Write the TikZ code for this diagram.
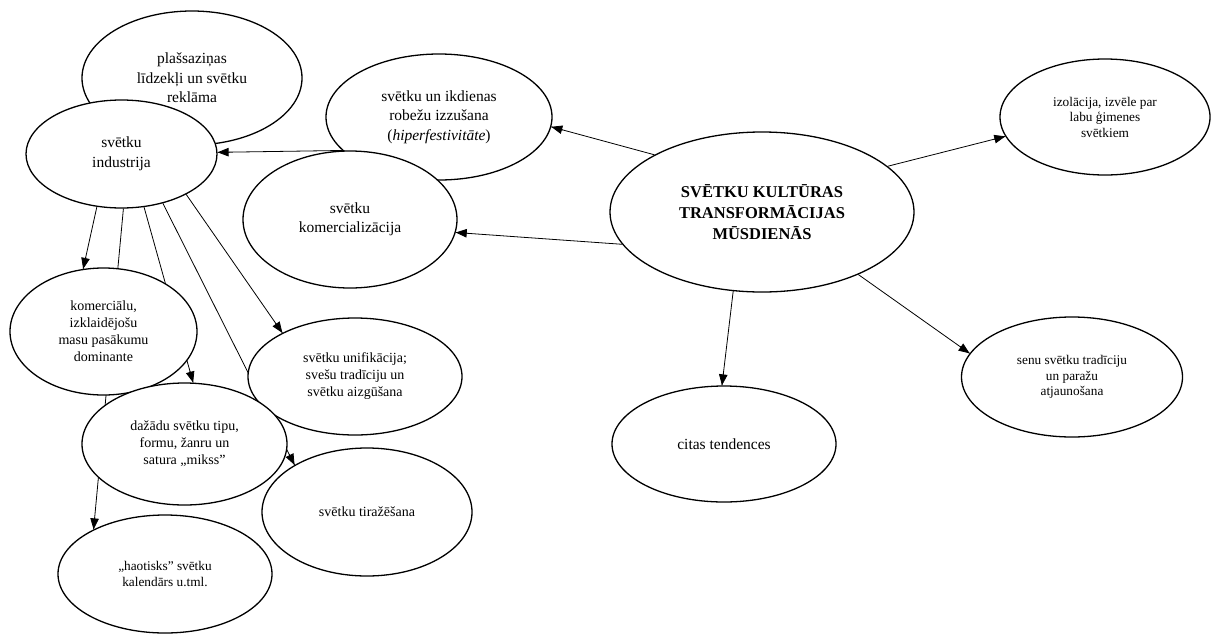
\documentclass[tikz,border=0pt]{standalone}
\usepackage{fontspec}
\setmainfont{Liberation Serif}
\usetikzlibrary{shapes.geometric,arrows.meta,calc}
\pgfdeclarelayer{bg}
\pgfdeclarelayer{fg}
\pgfsetlayers{bg,main,fg}
\begin{document}
\begin{tikzpicture}[x=1pt,y=-1pt,
  ell/.style={ellipse, draw, line width=1.3pt, fill=white, inner sep=0pt, align=center},
  fa/.style={font=\fontsize{15.5}{19.5}\selectfont},
  fb/.style={font=\fontsize{14}{17}\selectfont},
  fc/.style={font=\fontsize{13.3}{15.5}\selectfont},
  fm/.style={font=\fontsize{16.5}{21}\selectfont\bfseries},
  link/.style={line width=0.8pt},
  tip/.style={line width=0.8pt, -{Triangle[length=11pt,width=8.5pt]}}
]
\useasboundingbox (0,0) rectangle (1212,635);

% nodes
\node[ell,fa,minimum width=220pt,minimum height=134pt] (plas) at (192,78) {plašsaziņas\\līdzekļi un svētku\\reklāma};
\node[ell,fa,minimum width=191pt,minimum height=108pt] (ind) at (121.5,154) {svētku\\industrija};
\node[ell,fa,minimum width=226pt,minimum height=126pt] (ikd) at (439,117) {svētku un ikdienas\\robežu izzušana\\(\textit{hiperfestivitāte})};
\node[ell,fa,minimum width=214pt,minimum height=137pt] (kom) at (350,219.5) {svētku\\komercializācija};
\node[ell,fm,minimum width=304pt,minimum height=160pt] (cen) at (762,212) {SVĒTKU KULTŪRAS\\TRANSFORMĀCIJAS\\MŪSDIENĀS};
\node[ell,fc,minimum width=210pt,minimum height=116pt] (izo) at (1105,117) {izolācija, izvēle par\\labu ģimenes\\svētkiem};
\node[ell,fb,minimum width=187pt,minimum height=127pt] (kmc) at (103.5,331.5) {komerciālu,\\izklaidējošu\\masu pasākumu\\dominante};
\node[ell,fb,minimum width=214pt,minimum height=117pt] (uni) at (355,376.5) {svētku unifikācija;\\svešu tradīciju un\\svētku aizgūšana};
\node[ell,fb,minimum width=205pt,minimum height=122pt] (daz) at (184.5,444) {dažādu svētku tipu,\\formu, žanru un\\satura „mikss”};
\node[ell,fb,minimum width=210pt,minimum height=128pt] (tir) at (367,512) {svētku tiražēšana};
\node[ell,fc,minimum width=214pt,minimum height=118pt] (hao) at (165,574) {„haotisks” svētku\\kalendārs u.tml.};
\node[ell,fa,minimum width=224pt,minimum height=116pt] (cit) at (724,444) {citas tendences};
\node[ell,fc,minimum width=221pt,minimum height=120pt] (sen) at (1072,377) {senu svētku tradīciju\\un paražu\\atjaunošana};

% connector lines (behind the ellipses)
\begin{pgfonlayer}{bg}
\draw[link] (kom.94) -- (ind.1);
\draw[link] (cen.152) -- (ikd.355);
\draw[link] (cen.193) -- (kom.353);
\draw[link] (cen.20) -- (izo.191);
\draw[link] (cen.250) -- (cit.92);
\draw[link] (cen.327) -- (sen.167);
\draw[link] (ind.245) -- (kmc.108);
\draw[link] (ind.272) -- (hao.148);
\draw[link] (ind.293) -- (daz.82);
\draw[link] (ind.310) -- (tir.147);
\draw[link] (ind.328) -- (uni.149);
\end{pgfonlayer}

% arrowheads (in front)
\begin{pgfonlayer}{fg}
\draw[tip] ($(ind.1)!12pt!(kom.94)$) -- (ind.1);
\draw[tip] ($(ikd.355)!12pt!(cen.152)$) -- (ikd.355);
\draw[tip] ($(kom.353)!12pt!(cen.193)$) -- (kom.353);
\draw[tip] ($(izo.191)!12pt!(cen.20)$) -- (izo.191);
\draw[tip] ($(cit.92)!12pt!(cen.250)$) -- (cit.92);
\draw[tip] ($(sen.167)!12pt!(cen.327)$) -- (sen.167);
\draw[tip] ($(kmc.108)!12pt!(ind.245)$) -- (kmc.108);
\draw[tip] ($(hao.148)!12pt!(ind.272)$) -- (hao.148);
\draw[tip] ($(daz.82)!12pt!(ind.293)$) -- (daz.82);
\draw[tip] ($(tir.147)!12pt!(ind.310)$) -- (tir.147);
\draw[tip] ($(uni.149)!12pt!(ind.328)$) -- (uni.149);
\end{pgfonlayer}
\end{tikzpicture}
\end{document}
